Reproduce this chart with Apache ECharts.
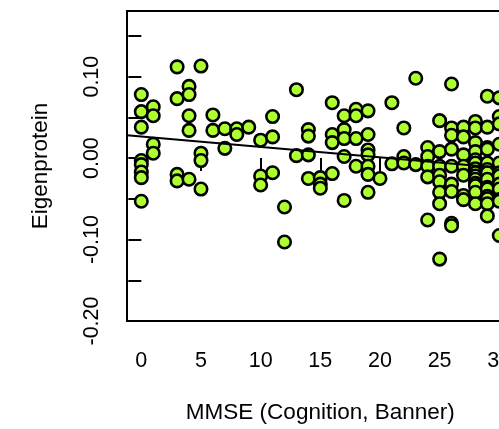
<!DOCTYPE html>
<html>
<head>
<meta charset="utf-8">
<script src="https://cdn.jsdelivr.net/npm/echarts@6/dist/echarts.min.js"></script>
<style>
  html, body { margin: 0; padding: 0; background: #ffffff; overflow: hidden; width: 499px; height: 429px; }
  #chart { width: 530px; height: 429px; }
</style>
</head>
<body>
<div id="chart"></div>
<script>
// MMSE score of each sample (x) and its eigenprotein value (y)
const mmse = [
  0,0,0,0,0,0,0,0,
  1,1,1,1,
  3,3,3,3,
  4,4,4,4,4,
  5,5,5,5,
  6,6,
  7,7,
  8,8,
  9,
  10,10,10,
  11,11,11,
  12,12,
  13,13,
  14,14,14,14,
  15,15,15,
  16,16,16,16,
  17,17,17,17,17,
  18,18,18,18,
  19,19,19,19,19,19,19,
  20,
  21,21,
  22,22,22,
  23,23,
  24,24,24,24,24,
  25,25,25,25,25,25,25,25,
  26,26,26,26,26,26,26,26,26,
  27,27,27,27,27,27,27,
  28,28,28,28,28,28,28,28,28,28,28,28,28,28,
  29,29,29,29,29,29,29,29,29,29,29,29,29,29,
  30,30,30,30,30,30,30,30,30,30,30,30
];
const eigen = [
  0.078, 0.057, 0.038, -0.003, -0.008, -0.017, -0.024, -0.053,
  0.063, 0.052, 0.017, 0.006,
  0.112, 0.073, -0.020, -0.028,
  0.088, 0.078, 0.052, 0.034, -0.026,
  0.113, 0.006, -0.003, -0.038,
  0.053, 0.034,
  0.036, 0.012,
  0.036, 0.029,
  0.038,
  0.022, -0.022, -0.033,
  0.051, 0.026, -0.018,
  -0.060, -0.103,
  0.084, 0.003,
  0.035, 0.027, 0.004, -0.025,
  -0.024, -0.032, -0.037,
  0.068, 0.029, 0.019, -0.019,
  0.052, 0.035, 0.024, 0.002, -0.052,
  0.060, 0.052, 0.024, -0.010,
  0.058, 0.029, 0.010, 0.004, -0.010, -0.020, -0.042,
  -0.025,
  0.068, -0.007,
  0.037, 0.002, -0.006,
  0.098, -0.008,
  0.013, 0.002, -0.010, -0.023, -0.076,
  0.046, 0.008, -0.010, -0.021, -0.029, -0.042, -0.056, -0.124,
  0.091, 0.037, 0.028, 0.011, -0.010, -0.032, -0.041, -0.080, -0.083,
  0.038, 0.026, 0.004, -0.010, -0.021, -0.046, -0.051,
  0.045, 0.037, 0.019, 0.008, -0.002, -0.006, -0.013, -0.018, -0.022, -0.026, -0.031, -0.034, -0.042, -0.056,
  0.076, 0.038, 0.013, 0.011, -0.006, -0.014, -0.018, -0.026, -0.036, -0.038, -0.047, -0.050, -0.056, -0.071,
  0.074, 0.051, 0.042, 0.017, -0.006, -0.018, -0.022, -0.032, -0.038, -0.051, -0.053, -0.095
];
// fitted regression line, end points
const fitX = [-1.2, 31.2];
const fitY = [0.028, -0.0135];
// tick positions and labels
const xTicks = [0, 5, 10, 15, 20, 25, 30];
const yTicks = [-0.20, -0.15, -0.10, -0.05, 0.00, 0.05, 0.10, 0.15];
const yLabels = [-0.20, -0.10, 0.00, 0.10];
const xTitle = 'MMSE (Cognition, Banner)';
const yTitle = 'Eigenprotein';

const points = mmse.map((m, i) => [m, eigen[i]]);
const fitLine = fitX.map((x, i) => [x, fitY[i]]);

const FONT = "'Liberation Sans', Arial, Helvetica, sans-serif";
const chart = echarts.init(document.getElementById('chart'), null, { renderer: 'canvas' });
chart.setOption({
  animation: false,
  backgroundColor: '#ffffff',
  grid: {
    left: 127, top: 11, width: 386.6, height: 311,
    show: true, borderColor: '#000000', borderWidth: 2, backgroundColor: 'transparent',
    containLabel: false
  },
  xAxis: {
    type: 'value', min: -1.2, max: 31.2,
    axisLine: { show: false },
    splitLine: { show: false },
    axisTick: { show: true, length: 13, customValues: xTicks, lineStyle: { color: '#000', width: 2 } },
    axisLabel: { show: true, customValues: xTicks, margin: 29, color: '#000', fontSize: 21.5, fontFamily: FONT,
                 formatter: v => String(v) },
    name: xTitle, nameLocation: 'middle', nameGap: 80,
    nameTextStyle: { color: '#000', fontSize: 22.5, fontFamily: FONT }
  },
  yAxis: {
    type: 'value', min: -0.2, max: 0.1806,
    axisLine: { show: false },
    splitLine: { show: false },
    axisTick: { show: true, length: 13, customValues: yTicks, lineStyle: { color: '#000', width: 2 } },
    axisLabel: { show: true, customValues: yLabels, rotate: 90, margin: 24, color: '#000', fontSize: 21.5, fontFamily: FONT,
                 formatter: v => v.toFixed(2) },
    name: yTitle, nameLocation: 'middle', nameGap: 75,
    nameTextStyle: { color: '#000', fontSize: 22.5, fontFamily: FONT }
  },
  series: [
    {
      type: 'scatter', data: points, symbol: 'circle', symbolSize: 12.5,
      itemStyle: { color: '#ADFF2F', borderColor: '#000000', borderWidth: 2.6, opacity: 1 },
      emphasis: { disabled: true }, z: 2
    },
    {
      type: 'line', data: fitLine, symbol: 'none',
      lineStyle: { color: '#000000', width: 2 },
      emphasis: { disabled: true }, z: 3
    }
  ]
});
</script>
</body>
</html>
